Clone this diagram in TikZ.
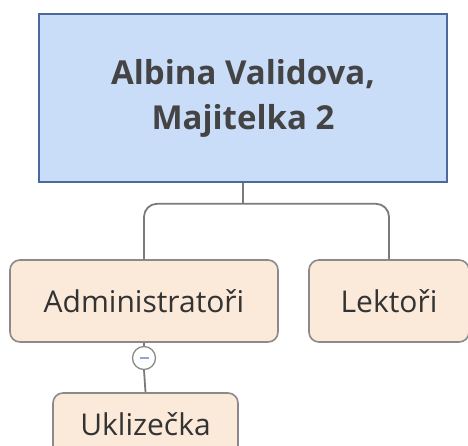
\documentclass[tikz,border=0pt]{standalone}
\usepackage{fontspec}
\setmainfont{Open Sans}
\definecolor{topfill}{HTML}{C9DCF8}
\definecolor{topdraw}{HTML}{4B6A9B}
\definecolor{subfill}{HTML}{FBEADA}
\definecolor{subdraw}{HTML}{8A8A8A}
\definecolor{linec}{HTML}{7A7A7A}
\definecolor{txttop}{HTML}{444444}
\definecolor{txtsub}{HTML}{333333}
\definecolor{minusc}{HTML}{8FA6CF}
\begin{document}
\begin{tikzpicture}[x=1pt,y=-1pt,
  topbox/.style={draw=topdraw,fill=topfill,line width=1.6pt,minimum width=408pt,minimum height=168pt,
    align=center,font=\fontsize{33}{45}\selectfont\bfseries,text=txttop,inner sep=0pt},
  subbox/.style={draw=subdraw,fill=subfill,line width=1.6pt,rounded corners=10pt,minimum height=82pt,
    font=\fontsize{30}{36}\selectfont,text=txtsub,inner sep=0pt},
  conn/.style={draw=linec,line width=1.8pt,rounded corners=13pt},
  toggle/.style={circle,draw=subdraw,fill=white,line width=1.3pt,minimum size=23pt,inner sep=0pt}]
\useasboundingbox (0,0) rectangle (468,445);
\node[topbox] (top) at (243,98) {Albina Validova,\\Majitelka 2};
\node[subbox,minimum width=268pt] (adm) at (144,301) {Administratoři};
\node[subbox,minimum width=160pt] (lek) at (389,301) {Lektoři};
\node[subbox,minimum width=185pt,text height=12pt,text depth=10pt] (ukl) at (145.5,434) {Uklizečka};
\coordinate (j) at ([yshift=-21pt]top.south);
\draw[conn] (top.south) -- (j);
\draw[conn] (adm.north) |- (j) -| (lek.north);
\node[toggle] (tg) at (adm.south |- 0,358) {};
\draw[linec,line width=1.8pt] (adm.south) -- (tg.north);
\draw[linec,line width=1.8pt] (tg.south) -- (ukl.north);
\draw[minusc,line width=1.8pt] ([xshift=-4.5pt]tg.center) -- ([xshift=4.5pt]tg.center);
\end{tikzpicture}
\end{document}
